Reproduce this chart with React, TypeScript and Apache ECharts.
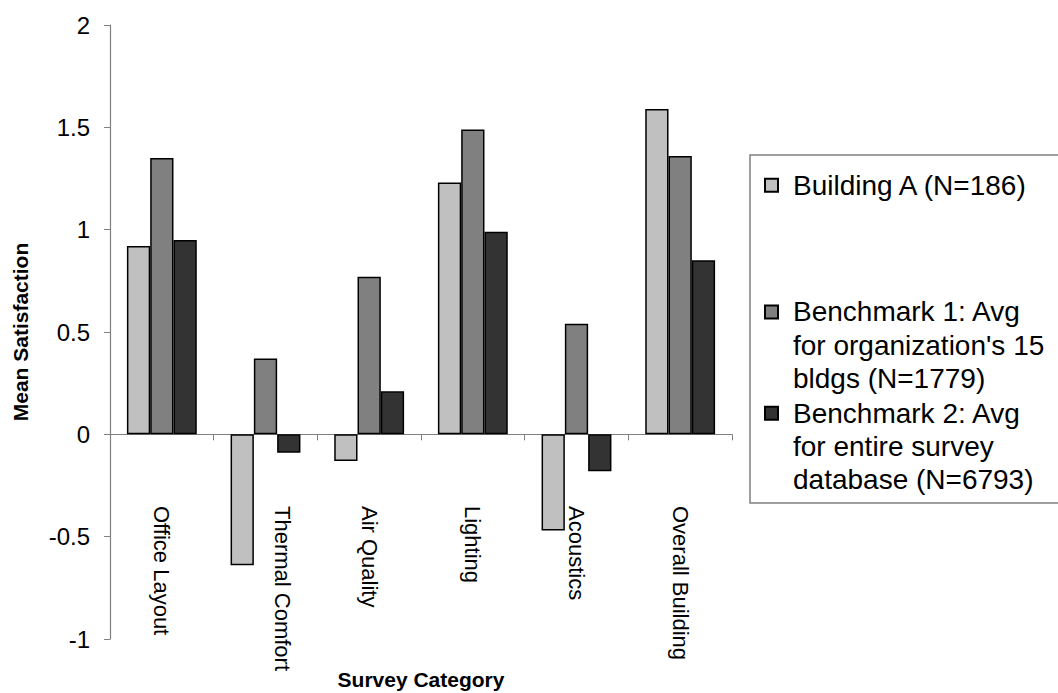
import React, { useEffect, useRef } from "react";
import * as echarts from "echarts";

const categories = [
  "Office Layout",
  "Thermal Comfort",
  "Air Quality",
  "Lighting",
  "Acoustics",
  "Overall Building",
];
const seriesNames = [
  "Building A (N=186)",
  "Benchmark 1: Avg\nfor organization's 15\nbldgs (N=1779)",
  "Benchmark 2: Avg\nfor entire survey\ndatabase (N=6793)",
];
const buildingA = [0.92, -0.64, -0.13, 1.23, -0.47, 1.59];
const benchmark1 = [1.35, 0.37, 0.77, 1.49, 0.54, 1.36];
const benchmark2 = [0.95, -0.09, 0.21, 0.99, -0.18, 0.85];
const yMin = -1;
const yMax = 2;
const yStep = 0.5;
const colors = ["#C0C0C0", "#808080", "#333333"];

const FONT = "'Liberation Sans', Arial, sans-serif";

export default function App() {
  const ref = useRef<HTMLDivElement>(null);
  useEffect(() => {
    const chart = echarts.init(ref.current!, null, { renderer: "svg" });
    const values = [buildingA, benchmark1, benchmark2];
    const legendTops = [168.5, 228.7, 330];
    chart.setOption({
      animation: false,
      backgroundColor: "#ffffff",
      textStyle: { fontFamily: FONT, color: "#000" },
      grid: {
        left: 110,
        right: 326,
        top: 25,
        bottom: 54,
        containLabel: false,
        outerBoundsMode: "none",
      },
      graphic: [
        {
          type: "rect",
          shape: { x: 750, y: 155, width: 330, height: 348 },
          style: { fill: "none", stroke: "#808080", lineWidth: 1.5 },
          silent: true,
        },
      ],
      legend: seriesNames.map((n, i) => ({
        data: [n],
        orient: "vertical",
        left: 764,
        top: legendTops[i],
        padding: 0,
        itemWidth: 13,
        itemHeight: 13,
        icon: "rect",
        selectedMode: false,
        formatter: (name: string) => (name.indexOf("\n") >= 0 ? "\n\n" + name : name),
        textStyle: {
          fontFamily: FONT,
          fontSize: 28,
          lineHeight: 33.3,
          color: "#000",
          padding: [0, 0, 0, 10],
        },
      })),
      xAxis: {
        type: "category",
        data: categories.map((c) =>
          c === "Thermal Comfort"
            ? { value: c, textStyle: { verticalAlign: "bottom", lineHeight: 34 } }
            : c
        ),
        name: "Survey Category",
        nameLocation: "middle",
        nameGap: 30,
        nameMoveOverlap: false,
        nameTextStyle: { fontFamily: FONT, fontSize: 21, fontWeight: "bold", color: "#000" },
        axisLine: { onZero: true, lineStyle: { color: "#808080", width: 1.2 } },
        axisTick: { show: true, length: 6, lineStyle: { color: "#808080" } },
        axisLabel: {
          rotate: -90,
          margin: -133,
          fontSize: 22,
          color: "#000",
          fontFamily: FONT,
          interval: 0,
        },
        splitLine: { show: false },
      },
      yAxis: {
        type: "value",
        min: yMin,
        max: yMax,
        interval: yStep,
        name: "Mean Satisfaction",
        nameLocation: "middle",
        nameGap: 79,
        nameMoveOverlap: false,
        nameTextStyle: { fontFamily: FONT, fontSize: 21, fontWeight: "bold", color: "#000" },
        axisLine: { show: true, lineStyle: { color: "#808080", width: 1.2 } },
        axisTick: { show: true, length: 6, lineStyle: { color: "#808080" } },
        axisLabel: { fontSize: 24, color: "#000", margin: 20, fontFamily: FONT },
        splitLine: { show: false },
      },
      series: seriesNames.map((n, i) => ({
        name: n,
        type: "bar",
        data: values[i],
        barGap: "0%",
        barCategoryGap: "32.6%",
        itemStyle: { color: colors[i], borderColor: "#000", borderWidth: 1.5 },
      })),
    });
    return () => chart.dispose();
  }, []);
  return (
    <div
      ref={ref}
      style={{ position: "absolute", left: 0, top: 0, width: 1058, height: 693, background: "#fff" }}
    />
  );
}
